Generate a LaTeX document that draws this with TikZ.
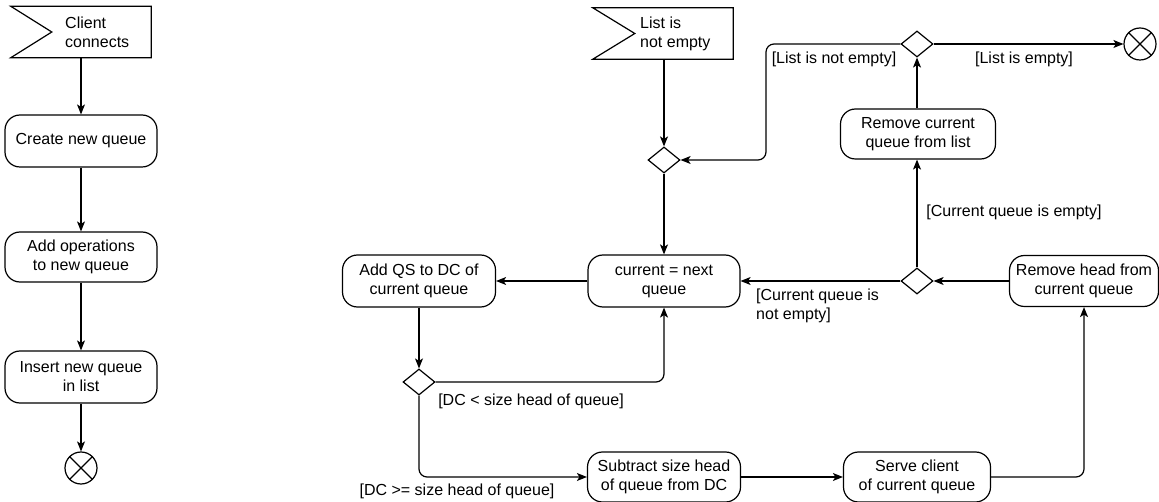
\documentclass[tikz,border=0pt]{standalone}
\usepackage{fontspec}
\setmainfont{Liberation Sans}
\usetikzlibrary{shapes.geometric,arrows.meta,calc}
\begin{document}
\begin{tikzpicture}[x=1pt,y=-1pt,
  every node/.style={font=\fontsize{16}{19}\selectfont},
  act/.style={draw, rounded corners=15pt, align=center, inner sep=0pt, line width=1.2pt},
  dec/.style={draw, diamond, minimum width=32pt, minimum height=26pt, inner sep=0pt, line width=1.2pt},
  fin/.style={draw, circle, minimum size=32pt, inner sep=0pt, line width=1.2pt},
  flagbox/.style={minimum width=140pt, minimum height=51pt, inner sep=0pt},
  lbl/.style={align=left, inner sep=0pt},
  arr/.style={line width=1.2pt, -{Stealth[length=10pt,width=8pt,inset=2.5pt]}, rounded corners=8pt},
  outline/.style={line width=1.2pt}
]
\useasboundingbox (0,0) rectangle (1159,502);

% ---------- left flow ----------
\node[flagbox] (f1) at (81,32) {};
\draw[outline] (f1.north west) -- (f1.north east) -- (f1.south east) -- (f1.south west) -- ($(f1.west)+(41,0)$) -- cycle;
\node[lbl, anchor=west] (f1t) at (65,32) {Client\\connects};

\node[act, minimum width=152pt, minimum height=52pt] (b1) at (81,141) {Create new queue};
\node[act, minimum width=152pt, minimum height=50pt] (b2) at (81,257) {Add operations\\to new queue};
\node[act, minimum width=152pt, minimum height=52pt] (b3) at (81,377) {Insert new queue\\in list};
\node[fin] (e1) at (81,468) {};
\draw[outline] (e1.45) -- (e1.225) (e1.135) -- (e1.315);

\draw[arr] (f1.south) -- (b1.north);
\draw[arr] (b1.south) -- (b2.north);
\draw[arr] (b2.south) -- (b3.north);
\draw[arr] (b3.south) -- (e1.north);

% ---------- right flow ----------
\node[flagbox] (f2) at (663,33.5) {};
\draw[outline] (f2.north west) -- (f2.north east) -- (f2.south east) -- (f2.south west) -- ($(f2.west)+(42,0)$) -- cycle;
\node[lbl, anchor=west] (f2t) at (640,33.5) {List is\\not empty};

\node[dec] (d0) at (917,44) {};
\node[dec] (d1) at (664,160) {};
\node[dec] (d3) at (917,281) {};
\node[dec] (d2) at (419,382) {};
\node[fin] (e2) at (1140,44) {};
\draw[outline] (e2.45) -- (e2.225) (e2.135) -- (e2.315);

\node[act, minimum width=155pt, minimum height=50pt] (rc) at (918,134) {Remove current\\queue from list};
\node[act, minimum width=152pt, minimum height=52pt] (cur) at (664,281) {current = next\\queue};
\node[act, minimum width=153pt, minimum height=52pt] (aq) at (419,281) {Add QS to DC of\\current queue};
\node[act, minimum width=149pt, minimum height=51pt] (rh) at (1084,281) {Remove head from\\current queue};
\node[act, minimum width=153pt, minimum height=50pt] (sub) at (664,477) {Subtract size head\\of queue from DC};
\node[act, minimum width=147pt, minimum height=50pt] (srv) at (917,477) {Serve client\\of current queue};

\coordinate (c1) at (766,44);
\draw[arr] (f2.south -| d1.north) -- (d1.north);
\draw[arr] (d0.west) -- (c1) |- (d1.east);
\draw[arr] (d1.south) -- (cur.north);
\draw[arr] (cur.west) -- (aq.east);
\draw[arr] (aq.south) -- (d2.north);
\draw[arr] (d2.east) -| (cur.south);
\draw[arr] (d2.south) |- (sub.west);
\draw[arr] (sub.east) -- (srv.west);
\draw[arr] (srv.east) -| (rh.south);
\draw[arr] (rh.west) -- (d3.east);
\draw[arr] (d3.west) -- (cur.east);
\draw[arr] (d3.north) -- (rc.south -| d3.north);
\draw[arr] (rc.north -| d0.south) -- (d0.south);
\draw[arr] (d0.east) -- (e2.west);

% ---------- labels ----------
\node[lbl] (l1) at (834,59) {[List is not empty]};
\node[lbl] (l2) at (1024,59) {[List is empty]};
\node[lbl] (l3) at (1014,212) {[Current queue is empty]};
\node[lbl, anchor=west] (l4) at (756,306) {[Current queue is\\not empty]};
\node[lbl] (l5) at (531,401) {[DC < size head of queue]};
\node[lbl] (l6) at (457,491) {[DC >= size head of queue]};
\end{tikzpicture}
\end{document}
